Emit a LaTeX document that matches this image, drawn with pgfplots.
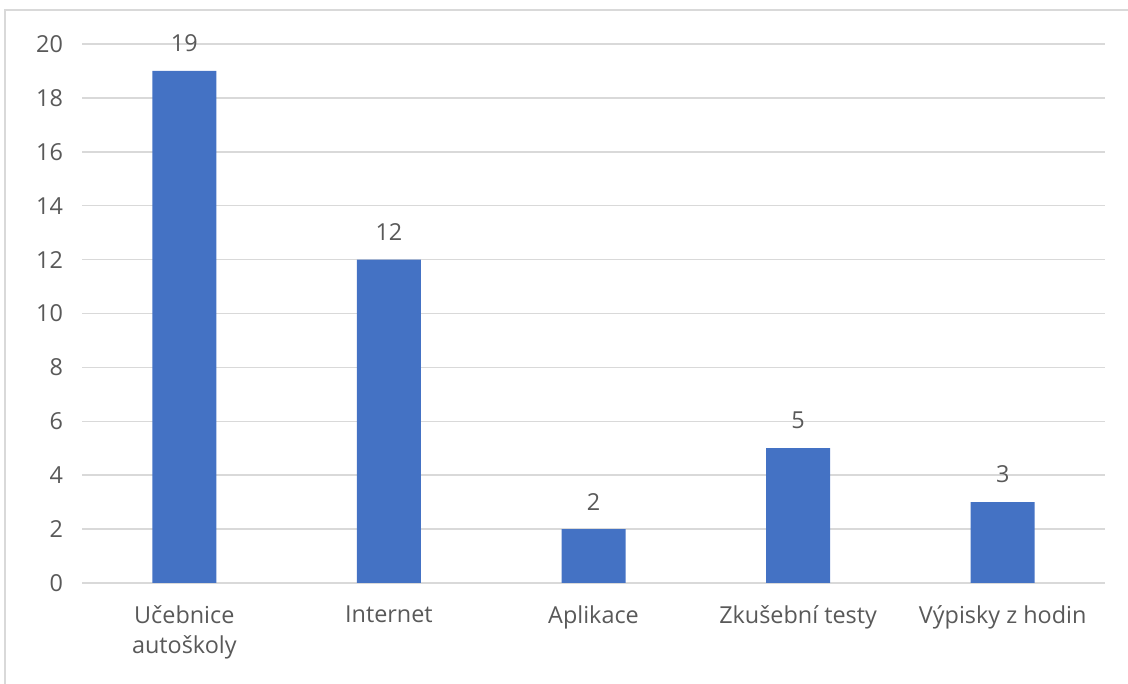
\documentclass[border=0pt]{standalone}
\usepackage{pgfplots}
\pgfplotsset{compat=1.18}
\usepackage{fontspec}
\setmainfont{Open Sans}
\definecolor{barblue}{HTML}{4472C4}
\definecolor{txt}{HTML}{595959}
\definecolor{grd}{HTML}{D9D9D9}
\begin{document}
\begin{tikzpicture}
\path[use as bounding box] (0,0) rectangle (564pt,342pt);
\draw[grd, line width=0.75pt] (2.5pt,0) -- (2.5pt,337pt) -- (564pt,337pt);
\begin{axis}[
  at={(41pt,50.5pt)}, anchor=south west,
  scale only axis, width=511.5pt, height=269.5pt,
  xmin=-0.5, xmax=4.5, ymin=0, ymax=20,
  ytick={0,2,...,20},
  xtick={0,1,2,3,4},
  xticklabels={{Učebnice\\autoškoly},{Internet},{Aplikace},{Zkušební testy},{Výpisky z hodin}},
  xticklabel style={align=center, font=\fontsize{11.7}{15}\selectfont, text=txt, yshift=-8pt},
  yticklabel style={font=\fontsize{11.7}{13}\selectfont, text=txt, xshift=-6pt},
  /pgf/number format/assume math mode=true,
  major tick length=0pt,
  ymajorgrids, grid style={grd, line width=0.75pt},
  axis x line*=bottom,
  axis y line*=left,
  x axis line style={draw=grd, line width=0.75pt, -},
  y axis line style={draw=none},
  ybar, bar width=32pt,
  nodes near coords,
  nodes near coords style={font=\fontsize{11.7}{13}\selectfont, text=txt, yshift=6pt},
  clip=false,
]
\addplot[fill=barblue, draw=none] coordinates {(0,19) (1,12) (2,2) (3,5) (4,3)};
\end{axis}
\end{tikzpicture}
\end{document}
